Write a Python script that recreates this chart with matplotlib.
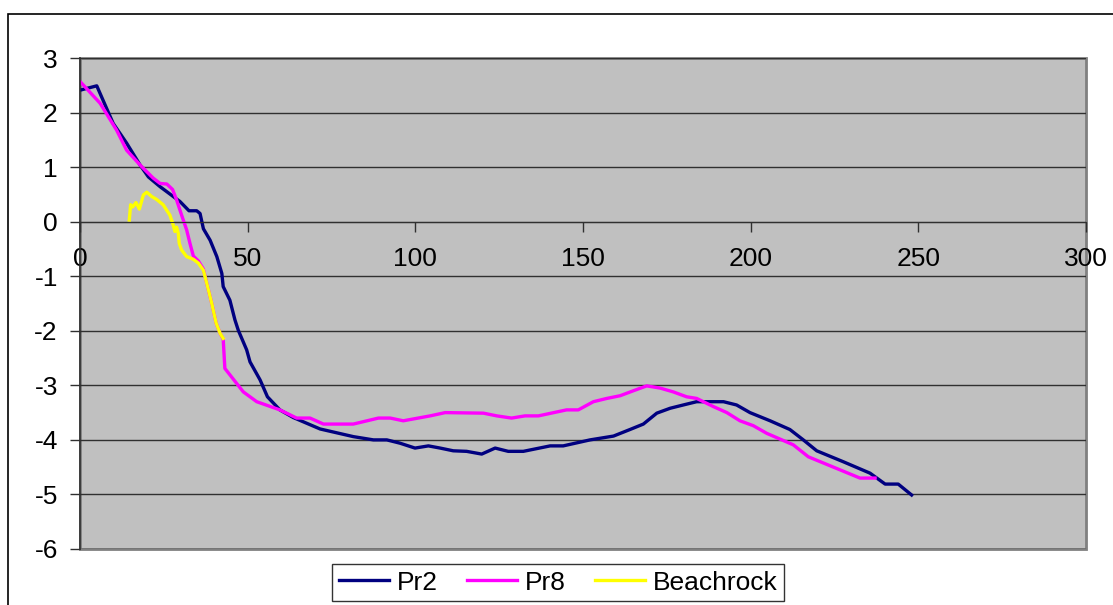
import matplotlib
matplotlib.use("Agg")
import matplotlib.pyplot as plt
from matplotlib.patches import Rectangle

plt.rcParams['font.family'] = ['Liberation Sans', 'DejaVu Sans']
plt.rcParams['axes.unicode_minus'] = False

# profile Pr2
pr2_x = [0, 5, 9.9, 13.9, 17.9, 20.4, 23.9, 29.8, 32.5, 34.8, 35.8, 36.8, 38.8, 40.8,
         42.3, 42.7, 44.7, 46.2, 47.2, 49.7, 50.7, 53.7, 55.9, 59.6, 63.6, 71.6, 81.5,
         87.5, 91.5, 95.4, 99.9, 103.9, 107.4, 111.3, 115.3, 119.8, 123.8, 127.7, 132.2,
         140.2, 144.1, 152.1, 159.1, 164.0, 168.0, 172.0, 176.0, 179.9, 183.9, 191.9,
         195.8, 199.8, 205.8, 211.7, 215.7, 219.7, 227.6, 235.6, 240.1, 244.0, 248.0]
pr2_y = [2.41, 2.49, 1.80, 1.44, 1.04, 0.82, 0.64, 0.37, 0.20, 0.20, 0.15, -0.13, -0.34, -0.64,
         -0.95, -1.19, -1.44, -1.80, -1.99, -2.35, -2.57, -2.90, -3.21, -3.45, -3.59, -3.80, -3.94,
         -4.00, -4.00, -4.06, -4.15, -4.11, -4.15, -4.20, -4.21, -4.26, -4.15, -4.21, -4.21,
         -4.11, -4.11, -4.00, -3.93, -3.81, -3.71, -3.51, -3.42, -3.36, -3.30, -3.30,
         -3.36, -3.50, -3.65, -3.81, -4.00, -4.20, -4.40, -4.61, -4.81, -4.81, -5.01]

# profile Pr8
pr8_x = [0, 6.0, 10.9, 13.9, 17.9, 21.8, 23.9, 25.9, 27.6, 28.8, 30.3, 31.8, 32.8, 33.8,
         35.3, 36.8, 37.8, 39.3, 40.6, 41.8, 42.7, 43.2, 48.7, 52.7, 59.6, 64.6, 68.6,
         72.6, 81.5, 89.0, 92.5, 96.4, 104.4, 108.9, 120.3, 124.3, 128.7, 132.7, 136.7,
         145.1, 148.6, 153.1, 157.1, 161.1, 165.0, 169.0, 173.0, 176.9, 180.9, 183.9,
         188.9, 192.9, 196.8, 200.8, 204.8, 212.7, 217.2, 224.7, 232.6, 237.1]
pr8_y = [2.57, 2.17, 1.68, 1.31, 1.04, 0.80, 0.70, 0.69, 0.59, 0.40, 0.12, -0.15, -0.40, -0.63,
         -0.72, -0.87, -1.13, -1.50, -1.86, -2.05, -2.15, -2.69, -3.12, -3.30, -3.45, -3.60, -3.60,
         -3.71, -3.71, -3.60, -3.60, -3.65, -3.56, -3.50, -3.51, -3.56, -3.60, -3.56, -3.56,
         -3.45, -3.45, -3.30, -3.24, -3.19, -3.10, -3.01, -3.05, -3.12, -3.21, -3.24,
         -3.39, -3.50, -3.65, -3.74, -3.88, -4.09, -4.31, -4.50, -4.70, -4.70]

# beachrock
br_x = [14.7, 15.1, 15.7, 16.7, 17.7, 18.9, 19.9, 21.4, 22.8, 24.8, 26.8, 27.8, 28.3,
        28.8, 29.3, 29.6, 30.3, 31.8, 33.8, 35.3, 36.8, 37.8, 39.3, 40.6, 41.8, 42.7]
br_y = [0.03, 0.31, 0.27, 0.35, 0.23, 0.49, 0.54, 0.46, 0.41, 0.31, 0.12, -0.06, -0.18,
        -0.10, -0.21, -0.40, -0.52, -0.64, -0.69, -0.76, -0.89, -1.13, -1.50, -1.86, -2.05, -2.14]

x_ticks = [0, 50, 100, 150, 200, 250, 300]
y_ticks = [3, 2, 1, 0, -1, -2, -3, -4, -5, -6]

fig = plt.figure(figsize=(11.13, 6.05), dpi=100)
ax = fig.add_axes([80 / 1113, 1 - 549 / 605, 1006 / 1113, 491 / 605])
ax.set_facecolor('#c0c0c0')

# outer chart border (cropped on right and bottom)
fig.patches.append(Rectangle((8 / 1113, -0.1), 1.2, 1 - 14 / 605 + 0.1, transform=fig.transFigure,
                             fill=False, edgecolor='black', lw=1.2))

ax.plot(pr2_x, pr2_y, color='#000080', lw=2.4, label='Pr2')
ax.plot(pr8_x, pr8_y, color='#ff00ff', lw=2.4, label='Pr8')
ax.plot(br_x, br_y, color='#ffff00', lw=2.4, label='Beachrock')

ax.set_xlim(0, 300)
ax.set_ylim(-6, 3)
ax.set_xticks(x_ticks)
ax.set_yticks(y_ticks)
ax.yaxis.grid(True, color='#303030', lw=1)
ax.set_axisbelow(True)

for s in ['top', 'right']:
    ax.spines[s].set_visible(False)
ax.spines['bottom'].set_position(('data', 0))
ax.spines['bottom'].set_color('#303030')
ax.spines['left'].set_color('#303030')
ax.spines['left'].set_linewidth(1.2)
ax.add_patch(Rectangle((0, 0), 1, 1, transform=ax.transAxes, fill=False,
                       edgecolor='#808080', lw=2, zorder=0.5, clip_on=False))

ax.tick_params(axis='x', direction='out', length=7, width=1, color='#303030',
               pad=11, labelsize=19)
ax.tick_params(axis='y', direction='out', length=7, width=1, color='#303030',
               pad=9, labelsize=19)

leg = fig.legend(loc='center', bbox_to_anchor=(558 / 1113, 1 - 582.5 / 605), ncol=3,
                 fontsize=19, frameon=True, fancybox=False, edgecolor='black',
                 handlelength=1.9, handletextpad=0.3, columnspacing=1.1,
                 borderpad=0.25, borderaxespad=0)
leg.get_frame().set_linewidth(1)

fig.savefig('out.png', dpi=100)
